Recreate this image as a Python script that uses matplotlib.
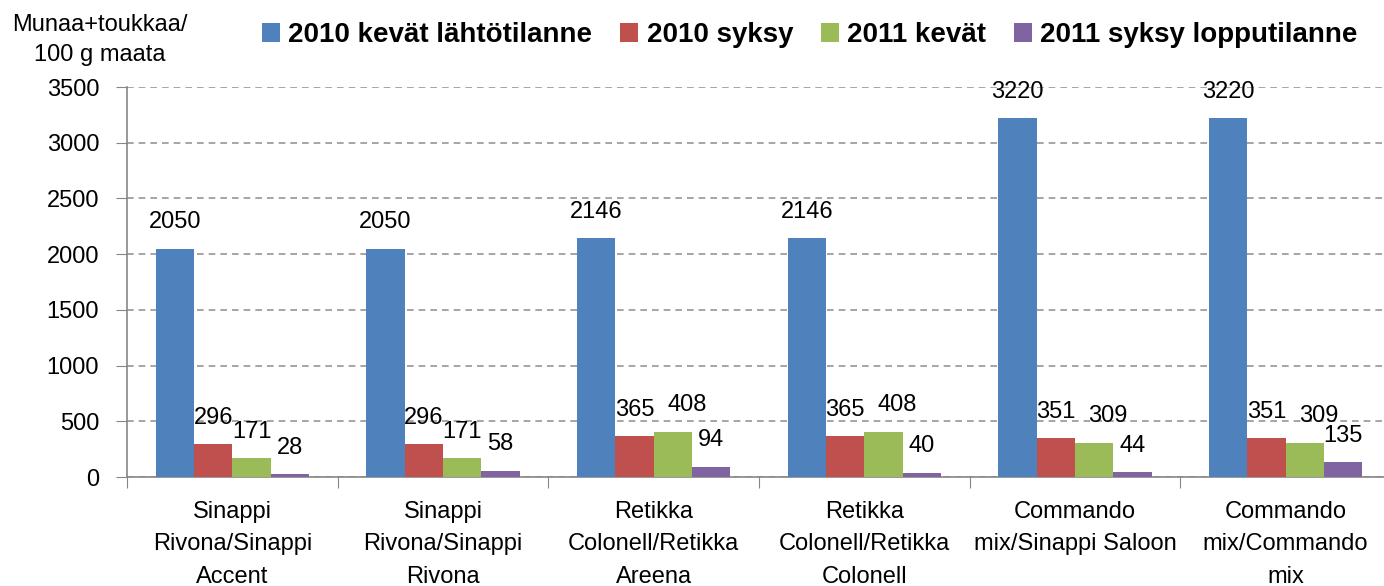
import numpy as np
import matplotlib
matplotlib.use('Agg')
import matplotlib.pyplot as plt

plt.rcParams['font.family'] = ['Liberation Sans', 'DejaVu Sans']

# Data
categories = ['Sinappi\nRivona/Sinappi\nAccent', 'Sinappi\nRivona/Sinappi\nRivona',
              'Retikka\nColonell/Retikka\nAreena', 'Retikka\nColonell/Retikka\nColonell',
              'Commando\nmix/Sinappi Saloon', 'Commando\nmix/Commando\nmix']
series_names = ['2010 kevät lähtötilanne', '2010 syksy', '2011 kevät', '2011 syksy lopputilanne']
kevat2010 = [2050, 2050, 2146, 2146, 3220, 3220]
syksy2010 = [296, 296, 365, 365, 351, 351]
kevat2011 = [171, 171, 408, 408, 309, 309]
syksy2011 = [28, 58, 94, 40, 44, 135]
colors = ['#4F81BD', '#C0504D', '#9BBB59', '#8064A2']
# horizontal nudge of value labels (points), green labels moved right in groups 3-6
label_dx = [[0] * 6, [0] * 6, [0, 0, 10, 10, 10, 10], [0] * 6]

fig = plt.figure(figsize=(13.84, 5.86), dpi=100)
ax = fig.add_axes([127/1384, 109/586, 1264/1384, 390/586])

x = np.arange(len(categories))
w = 0.182
allser = [kevat2010, syksy2010, kevat2011, syksy2011]
for i, (vals, c, name) in enumerate(zip(allser, colors, series_names)):
    pos = x + (i - 1.5) * w
    ax.bar(pos, vals, w, color=c, label=name, zorder=3)
    for p, v, dx in zip(pos, vals, label_dx[i]):
        ax.annotate(str(v), (p, v), xytext=(dx, 11), textcoords='offset points',
                    ha='center', va='bottom', fontsize=17, color='black')

ax.set_ylim(0, 3500)
ax.set_xlim(-0.5, 5.5)
ax.set_yticks(np.arange(0, 3501, 500))
ax.tick_params(axis='y', labelsize=17, length=8, color='#868686', direction='out', pad=12)
ax.yaxis.grid(True, linestyle=(0, (4, 3)), color='#969696', linewidth=1.2, zorder=0)

ax.set_xticks(np.arange(-0.5, 5.6, 1.0))
ax.set_xticklabels([])
ax.tick_params(axis='x', length=8, color='#868686', direction='out')
ax.set_xticks(x, minor=True)
ax.set_xticklabels(categories, minor=True, fontsize=17, linespacing=1.62)
ax.tick_params(axis='x', which='minor', length=0, pad=17)

for s in ['top', 'right']:
    ax.spines[s].set_visible(False)
for s in ['left', 'bottom']:
    ax.spines[s].set_color('#868686')
    ax.spines[s].set_linewidth(1.2)

fig.text(100/1384, 1 - 40/586, 'Munaa+toukkaa/\n100 g maata', ha='center', va='center',
         fontsize=17, linespacing=1.45)

ax.legend(loc='center left', bbox_to_anchor=(262/1384, 1 - 35/586), bbox_transform=fig.transFigure,
          ncol=4, frameon=False, prop={'size': 20, 'weight': 'bold'},
          handlelength=0.65, handleheight=0.65, handletextpad=0.3, columnspacing=1.0,
          borderaxespad=0, borderpad=0)

fig.savefig('out.png', dpi=100)
